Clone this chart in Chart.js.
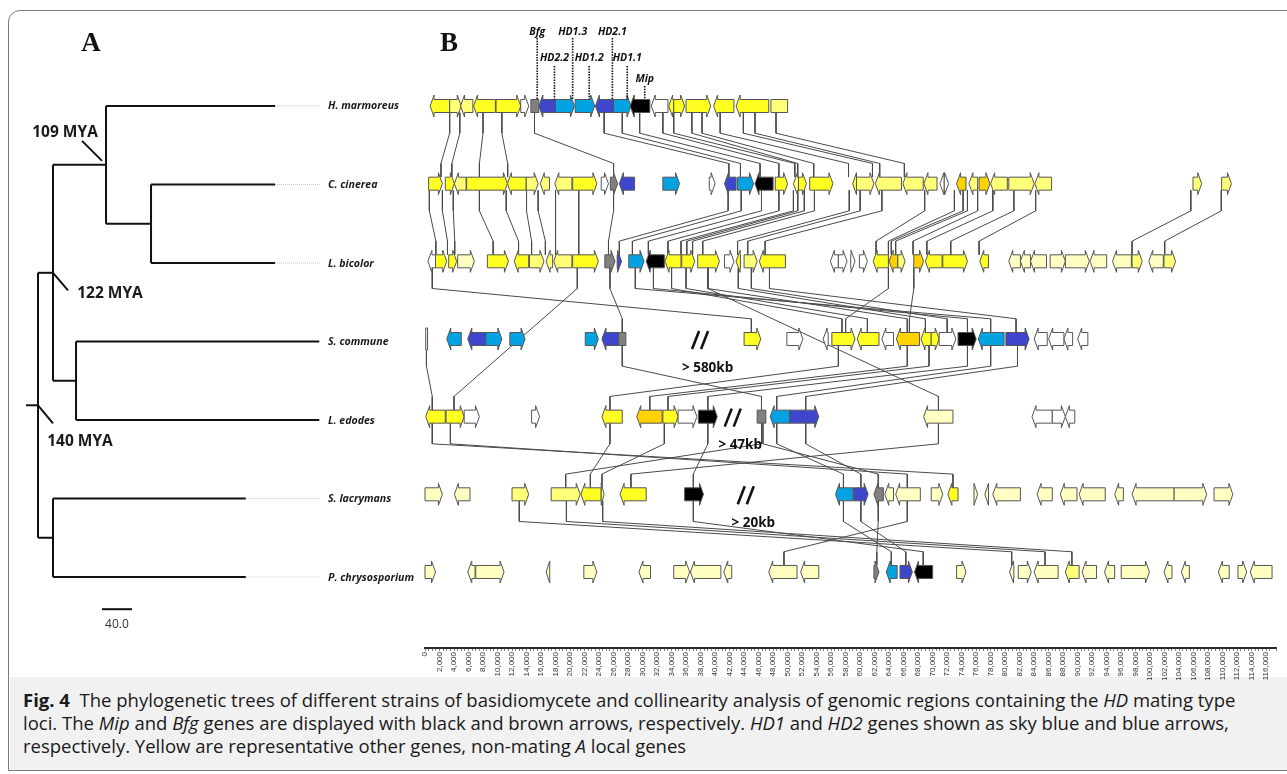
<!DOCTYPE html>
<html><head><meta charset="utf-8">
<script src="https://cdn.jsdelivr.net/npm/chart.js@4.4.1/dist/chart.umd.min.js"></script>
<style>
html,body{margin:0;padding:0;background:#fff;width:1287px;height:774px;overflow:hidden;}
#frame{position:absolute;left:8px;top:10px;width:1320px;height:761px;border:1px solid #7a7a7a;border-top-left-radius:12px;box-sizing:border-box;overflow:hidden;background:#fff;}
#caption{position:absolute;left:1px;top:666px;width:1320px;height:94px;background:#f1f1f1;font-family:"Open Sans",sans-serif;color:#1a1a1a;padding-top:11px;box-sizing:border-box;}
.cl{white-space:nowrap;height:23px;line-height:23px;padding-left:13px;font-size:15.4px;}
.fig{font-weight:700;}
canvas{position:absolute;left:0;top:0;}
</style></head>
<body>
<div id="frame"><div id="caption">
<div class="cl"><span id="cl1"><b class="fig">Fig. 4</b>&nbsp; The phylogenetic trees of different strains of basidiomycete and collinearity analysis of genomic regions containing the <i>HD</i> mating type</span></div>
<div class="cl">loci. The <i>Mip</i> and <i>Bfg</i> genes are displayed with black and brown arrows, respectively. <i>HD1</i> and <i>HD2</i> genes shown as sky blue and blue arrows,</div>
<div class="cl">respectively. Yellow are representative other genes, non-mating <i>A</i> local genes</div>
</div></div>
<canvas id="tree" width="425" height="680" style="width:425px;height:680px"></canvas>
<canvas id="genes" width="1287" height="680" style="width:1287px;height:680px"></canvas>
<script>
// ---------------- DATA ----------------
const speciesNames = ['H. marmoreus','C. cinerea','L. bicolor','S. commune','L. edodes','S. lacrymans','P. chrysosporium'];
// phylogeny (branch units; scale bar = 40.0)
const tipLength = [316,316,316,375,375,277,277];
const leaderEnd = 376;
const nodeIds = ['root','n122','n109','nCL','nSL','nSP'];
const nodeDepth = [0,20,90.7,150.7,50.7,20];
const nodeChildren = [['n122','nSP'],['n109','nSL'],[0,'nCL'],[1,2],[3,4],[5,6]];
const nodeAgeLabel = ['140 MYA','122 MYA','109 MYA','','',''];
const rootStub = -16;
const scaleBarValue = 40.0;

// x-axis (kb) tick labels every 2 kb, minor every 0.5 kb
const axisMaxKb = 117.4;
const tickStepKb = 0.5;
const labelStepKb = 2;

// genes: [start kb, end kb, strand, colour class]
const genesHmar = [[0.7,3.4,-1,'Y'],[3.4,5.0,1,'M'],[4.9,6.6,-1,'M'],[6.7,9.7,-1,'Y'],[9.8,13.2,1,'Y'],[13.2,14.3,1,'W'],[14.6,15.7,0,'R'],[15.7,18.0,-1,'B'],[18.0,20.6,1,'S'],[20.7,23.4,1,'S'],[23.5,26.0,-1,'B'],[26.0,28.4,1,'S'],[28.3,31.0,-1,'K'],[31.2,33.5,-1,'W'],[33.6,34.3,-1,'Y'],[34.3,35.8,1,'Y'],[36.0,39.4,1,'Y'],[39.8,42.6,-1,'Y'],[42.9,47.4,-1,'Y'],[47.7,50.0,0,'M']];
const genesCcin = [[0.5,2.4,1,'Y'],[2.8,4.05,1,'Y'],[4.05,5.66,-1,'M'],[5.74,11.36,1,'Y'],[11.36,13.96,-1,'Y'],[13.96,15.6,1,'M'],[15.9,17.16,-1,'M'],[17.9,20.26,-1,'M'],[20.36,23.7,1,'Y'],[24.3,25.3,1,'W'],[25.56,26.56,1,'R'],[26.8,28.9,-1,'B'],[32.8,35.1,1,'S'],[39.2,40.0,1,'W'],[41.3,42.9,-1,'B'],[43.1,45.3,1,'S'],[45.5,48.0,-1,'K'],[48.3,50.0,1,'Y'],[50.8,51.5,-1,'M'],[51.5,52.6,1,'Y'],[53.05,56.25,1,'Y'],[58.97,59.5,-1,'Y'],[59.5,61.9,1,'M'],[62.1,65.7,-1,'M'],[65.9,68.7,-1,'M'],[68.8,70.6,-1,'M'],[71.0,71.6,-1,'W'],[71.6,72.2,1,'W'],[73.3,74.6,-1,'G'],[75.0,76.2,-1,'M'],[76.4,77.9,1,'G'],[78.0,80.3,-1,'M'],[80.5,84.0,1,'M'],[84.1,86.4,-1,'M'],[105.9,107.1,1,'M'],[109.85,111.2,1,'M']];
const genesLbic = [[0.4,1.45,-1,'W'],[1.45,3.0,1,'Y'],[3.27,4.37,1,'Y'],[4.5,6.8,1,'P'],[8.6,11.5,1,'Y'],[12.3,14.3,-1,'Y'],[14.4,16.4,1,'M'],[16.7,17.6,-1,'M'],[17.75,20.26,-1,'M'],[20.36,23.9,1,'Y'],[24.8,26.2,1,'R'],[26.5,27.1,1,'B'],[28.1,30.2,1,'S'],[30.5,33.0,-1,'K'],[33.1,35.3,-1,'Y'],[35.4,37.2,1,'Y'],[37.6,40.6,1,'Y'],[41.3,42.6,1,'W'],[42.9,43.5,-1,'Y'],[44.0,45.8,1,'M'],[46.1,49.7,-1,'Y'],[55.9,57.0,-1,'W'],[57.0,58.2,1,'W'],[58.7,59.3,1,'W'],[59.9,61.0,1,'W'],[61.8,63.9,-1,'Y'],[64.0,65.2,-1,'G'],[65.2,66.2,1,'M'],[67.4,68.75,1,'G'],[69.0,71.3,-1,'Y'],[71.4,74.8,1,'Y'],[76.5,77.7,-1,'Y'],[80.5,82.1,-1,'P'],[82.1,83.5,-1,'P'],[83.5,85.7,-1,'P'],[86.2,88.3,1,'P'],[88.3,91.6,1,'P'],[91.7,94.0,-1,'P'],[94.8,97.4,-1,'P'],[97.5,98.9,1,'M'],[99.8,101.8,-1,'P'],[101.9,103.5,1,'M']];
const genesScom = [[0.1,0.35,0,'W'],[3.0,5.0,-1,'S'],[5.9,8.4,-1,'B'],[8.4,10.6,1,'S'],[11.7,13.8,1,'S'],[22.1,23.9,1,'S'],[24.4,26.7,-1,'B'],[26.7,27.7,0,'R'],[44.0,46.3,1,'Y'],[49.9,52.1,1,'W'],[54.9,55.6,-1,'W'],[56.1,59.3,1,'Y'],[59.6,62.6,-1,'Y'],[63.0,64.6,-1,'W'],[65.0,68.2,-1,'G'],[68.4,69.8,-1,'Y'],[69.8,70.9,1,'Y'],[70.9,73.2,1,'W'],[73.5,76.0,1,'K'],[76.3,79.85,-1,'S'],[80.1,83.3,1,'B'],[84.0,85.8,-1,'W'],[86.0,88.1,-1,'W'],[88.1,89.3,-1,'W'],[90.0,91.4,-1,'W']];
const genesLedo = [[0.1,2.8,-1,'Y'],[2.9,5.4,1,'Y'],[5.4,7.5,1,'W'],[14.7,15.8,1,'W'],[24.4,27.2,-1,'Y'],[29.2,32.7,-1,'G'],[32.8,34.9,1,'Y'],[34.9,37.5,1,'W'],[37.7,40.3,1,'K'],[45.8,47.0,0,'R'],[47.6,50.3,-1,'S'],[50.3,54.3,1,'B'],[68.75,72.8,-1,'P'],[83.7,86.5,-1,'W'],[86.5,88.3,1,'W'],[88.3,89.6,-1,'W']];
const genesSlac = [[0.0,2.4,1,'P'],[4.05,6.2,-1,'P'],[12.0,14.3,1,'M'],[17.4,21.4,1,'M'],[21.5,24.3,-1,'Y'],[24.3,24.7,1,'M'],[26.9,30.5,-1,'Y'],[35.8,38.4,1,'K'],[56.6,59.0,-1,'S'],[59.1,61.1,1,'B'],[61.9,63.2,-1,'R'],[63.4,64.6,-1,'P'],[64.9,68.3,-1,'P'],[69.8,71.4,1,'P'],[72.1,73.5,-1,'Y'],[75.7,76.2,1,'P'],[77.2,77.7,-1,'P'],[78.3,82.1,-1,'P'],[84.4,86.5,-1,'P'],[87.6,89.9,-1,'P'],[90.2,93.8,-1,'P'],[95.1,96.3,-1,'P'],[97.5,103.3,-1,'P'],[103.3,107.8,1,'P'],[108.8,111.4,1,'P']];
const genesPchr = [[0.0,1.45,1,'P'],[5.9,6.9,-1,'P'],[7.0,10.9,1,'P'],[16.7,17.2,-1,'P'],[21.9,23.7,1,'P'],[29.5,31.1,-1,'P'],[34.3,36.5,1,'P'],[36.6,40.8,-1,'P'],[41.2,42.3,-1,'P'],[47.4,51.3,-1,'P'],[51.8,54.3,-1,'P'],[61.9,62.6,1,'R'],[63.6,65.1,-1,'S'],[65.5,67.2,1,'B'],[67.5,70.0,-1,'K'],[73.3,74.6,1,'P'],[80.6,81.2,-1,'P'],[81.8,83.6,1,'P'],[84.0,87.3,-1,'P'],[88.3,90.2,-1,'M'],[90.6,92.6,-1,'P'],[93.7,95.1,-1,'P'],[96.0,99.9,1,'P'],[101.9,103.0,-1,'P'],[104.3,105.4,-1,'P'],[109.4,110.9,-1,'P'],[112.1,113.3,1,'P'],[113.8,116.8,-1,'P']];
const geneRows = [genesHmar,genesCcin,genesLbic,genesScom,genesLedo,genesSlac,genesPchr];

// mating-type gene labels on H. marmoreus
const matingLabels = ['Bfg','HD2.2','HD1.3','HD1.2','HD2.1','HD1.1','Mip'];
const matingLabelKb = [15.47,17.85,20.36,22.64,25.84,27.89,30.3];
const matingLabelLevel = [0,1,0,1,0,1,2];

// gaps between syntenic blocks
const breakRows = [3,4,5];
const breakKb = [38.0,42.5,44.3];
const breakText = ['> 580kb','> 47kb','> 20kb'];

// collinearity links: [rowA, kbA, rowB, kbB]
const links = [
 [0,3.4,1,2.2],[0,4.8,1,3.7],[0,8.0,1,7.5],[0,10.6,1,11.4],[0,15.1,1,26.0],[0,24.7,1,41.9],[0,27.2,1,43.5],[0,29.6,1,46.2],[0,32.8,1,48.8],[0,34.3,1,51.0],[0,36.8,1,51.4],[0,38.2,1,53.6],[0,40.7,1,58.4],[0,43.9,1,61.7],[0,45.5,1,62.7],[0,48.4,1,66.1],
 [1,0.6,2,1.5],[1,2.4,2,3.1],[1,3.9,2,4.1],[1,7.5,2,9.4],[1,11.2,2,12.9],[1,14.0,2,14.7],[1,15.6,2,16.6],[1,18.0,2,18.0],[1,21.2,2,21.2],[1,26.0,2,25.3],[1,41.8,2,26.8],[1,43.6,2,28.6],[1,46.4,2,30.8],[1,48.8,2,33.5],[1,50.8,2,35.3],[1,51.4,2,36.1],[1,52.3,2,36.9],[1,53.7,2,38.3],[1,58.5,2,43.1],[1,60.0,2,44.5],[1,63.0,2,46.9],[1,68.9,2,62.2],[1,73.0,2,63.9],[1,74.2,2,64.3],[1,74.8,2,64.9],[1,76.2,2,67.3],[1,78.3,2,69.2],[1,81.2,2,72.5],[1,84.2,2,76.4],[1,105.6,2,97.5],[1,109.8,2,102.0],
 [2,1.0,3,45.0],[2,21.0,4,4.0],[2,39.0,4,70.8],[2,25.5,3,27.2],[2,29.0,3,78.0],[2,31.5,3,74.8],[2,34.0,3,57.5],[2,36.0,3,61.0],[2,39.0,3,66.5],[2,43.2,3,69.0],[2,45.0,3,72.0],[2,47.5,3,81.5],[2,63.9,3,58.0],[2,67.4,3,66.8],
 [3,0.2,4,1.0],[3,27.2,4,46.4],[3,57.0,4,25.5],[3,66.5,4,31.0],[3,69.5,4,33.5],[3,74.8,4,39.0],[3,78.0,4,48.5],[3,81.7,4,52.5],
 [4,1.0,5,72.8],[4,3.5,5,66.5],[4,25.5,5,22.8],[4,33.0,5,24.4],[4,39.0,5,37.0],[4,46.4,5,19.4],[4,46.6,5,62.5],[4,48.5,5,57.7],[4,52.5,5,60.1],[4,70.8,5,28.4],
 [5,13.0,6,80.9],[5,19.5,6,85.5],[5,24.5,6,89.2],[5,37.0,6,68.7],[5,57.7,6,64.3],[5,60.1,6,66.3],[5,62.5,6,62.3],[5,66.5,6,49.5]
];

// ---------------- STYLE ----------------
const geneColor = {Y:'#ffff22',M:'#ffff78',P:'#ffffc2',G:'#ffd200',W:'#ffffff',S:'#03a3e3',B:'#3e47cc',K:'#000000',R:'#808080'};

// ---------------- TREE CHART ----------------
function yOf(c){ if(typeof c==='number') return c; const i=nodeIds.indexOf(c); const ys=nodeChildren[i].map(yOf); return (Math.min(...ys)+Math.max(...ys))/2; }
function xOf(c){ if(typeof c==='number') return tipLength[c]; return nodeDepth[nodeIds.indexOf(c)]; }
const treeSets = [];
function seg(pts, opts){ treeSets.push(Object.assign({data:pts,showLine:true,pointRadius:0,borderColor:'#111',borderWidth:2,fill:false,tension:0},opts||{})); }
nodeIds.forEach((id,i)=>{
  const d=nodeDepth[i]; const ch=nodeChildren[i];
  seg([{x:d,y:yOf(ch[0])},{x:d,y:yOf(ch[1])}]);
  ch.forEach(c=>seg([{x:d,y:yOf(c)},{x:xOf(c),y:yOf(c)}]));
});
seg([{x:rootStub,y:yOf('root')},{x:0,y:yOf('root')}]);
speciesNames.forEach((n,i)=>{ if(tipLength[i]<leaderEnd) seg([{x:tipLength[i],y:i},{x:leaderEnd,y:i}],{borderColor:'#c4c4c4',borderWidth:1,borderDash:[1,1]}); });
const scaleBarX = 85.3, scaleBarY = 6.41;
seg([{x:scaleBarX,y:scaleBarY},{x:scaleBarX+scaleBarValue,y:scaleBarY}]);

const treeText = {id:'treeText', afterDraw(chart){
  const ctx=chart.ctx, xs=chart.scales.x, ys=chart.scales.y;
  ctx.save();
  ctx.fillStyle='#1a1a1a'; ctx.textBaseline='middle';
  ctx.font='italic bold 10.6px "Open Sans"'; ctx.textAlign='left';
  speciesNames.forEach((n,i)=>ctx.fillText(n, xs.getPixelForValue(leaderEnd)+8, ys.getPixelForValue(i)+0.5));
  // age ticks and labels
  const offs = {root:[[0,0],[15,18],[42,36]], n122:[[0,0],[15,17.5],[57,21]], n109:[[-24,-24],[-4,-4],[-41,-32]]};
  ctx.strokeStyle='#111'; ctx.lineWidth=2; ctx.font='bold 15.5px "Open Sans"'; ctx.textAlign='center';
  nodeIds.forEach((id,i)=>{ if(!nodeAgeLabel[i]) return; const px=xs.getPixelForValue(nodeDepth[i]), py=ys.getPixelForValue(yOf(id)); const o=offs[id];
    ctx.beginPath(); ctx.moveTo(px+o[0][0],py+o[0][1]); ctx.lineTo(px+o[1][0],py+o[1][1]); ctx.stroke();
    ctx.fillText(nodeAgeLabel[i], px+o[2][0], py+o[2][1]); });
  ctx.font='12px "Open Sans"'; ctx.fillStyle='#333';
  ctx.fillText(scaleBarValue.toFixed(1), xs.getPixelForValue(scaleBarX+scaleBarValue/2), ys.getPixelForValue(scaleBarY)+15);
  ctx.font='bold 27px "Liberation Serif"'; ctx.fillStyle='#111';
  ctx.fillText('A', 91, 44);
  ctx.restore();
}};
new Chart(document.getElementById('tree'), {type:'scatter', data:{datasets:treeSets},
  options:{responsive:false, animation:false, events:[], layout:{padding:0},
    plugins:{legend:{display:false},tooltip:{enabled:false}},
    scales:{x:{type:'linear',display:false,min:-50.67,max:516},y:{type:'linear',display:false,min:-1.350,max:7.312,reverse:true}}},
  plugins:[treeText]});

// ---------------- GENE CHART ----------------
const linkSets = links.map(l=>({data:[{x:l[1],y:l[0]+0.085},{x:l[1],y:l[0]+0.35},{x:l[3],y:l[2]-0.26},{x:l[3],y:l[2]-0.085}],
  showLine:true,pointRadius:0,borderColor:'#4a4a4a',borderWidth:1,fill:false,tension:0}));

function drawGene(ctx,x0,x1,y,strand,fill){
  const bh=6.5, barb=11, head=Math.min(4,x1-x0);
  ctx.beginPath();
  if(strand>0){ const hx=x1-head; ctx.moveTo(x0,y-bh); ctx.lineTo(hx,y-bh); ctx.lineTo(hx,y-barb); ctx.lineTo(x1,y); ctx.lineTo(hx,y+barb); ctx.lineTo(hx,y+bh); ctx.lineTo(x0,y+bh); ctx.closePath(); }
  else if(strand<0){ const hx=x0+head; ctx.moveTo(x1,y-bh); ctx.lineTo(hx,y-bh); ctx.lineTo(hx,y-barb); ctx.lineTo(x0,y); ctx.lineTo(hx,y+barb); ctx.lineTo(hx,y+bh); ctx.lineTo(x1,y+bh); ctx.closePath(); }
  else if(x1-x0<3){ ctx.rect(x0,y-barb,x1-x0,2*barb); }
  else { ctx.rect(x0,y-bh,x1-x0,2*bh); }
  ctx.fillStyle=fill; ctx.fill(); ctx.strokeStyle='#555'; ctx.lineWidth=1; ctx.stroke();
}
const genePlugin = {id:'genes', afterDatasetsDraw(chart){
  const ctx=chart.ctx, xs=chart.scales.x, ys=chart.scales.y;
  ctx.save();
  geneRows.forEach((row,r)=>{ const y=ys.getPixelForValue(r);
    row.forEach(g=>drawGene(ctx, xs.getPixelForValue(g[0]), xs.getPixelForValue(g[1]), y, g[2], geneColor[g[3]])); });
  // mating labels
  const levelText=[32,58,79], levelTop=[38,66,86];
  const rowTop = ys.getPixelForValue(0)-6.5;
  ctx.font='italic bold 10.5px "Open Sans"'; ctx.textAlign='center'; ctx.textBaseline='middle'; ctx.fillStyle='#111';
  matingLabels.forEach((t,i)=>{ const x=xs.getPixelForValue(matingLabelKb[i]);
    ctx.save(); ctx.setLineDash([1.5,1.2]); ctx.strokeStyle='#111'; ctx.lineWidth=1.6;
    ctx.beginPath(); ctx.moveTo(x,levelTop[matingLabelLevel[i]]); ctx.lineTo(x,rowTop); ctx.stroke(); ctx.restore();
    ctx.fillText(t, x, levelText[matingLabelLevel[i]]); });
  // breaks
  breakRows.forEach((r,i)=>{ const x=xs.getPixelForValue(breakKb[i]), y=ys.getPixelForValue(r);
    ctx.strokeStyle='#111'; ctx.lineWidth=2.6; ctx.setLineDash([]);
    [-5,4].forEach(dx=>{ ctx.beginPath(); ctx.moveTo(x+dx-3.5,y+10); ctx.lineTo(x+dx+3.5,y-8); ctx.stroke(); });
    ctx.font='bold 13.5px "Open Sans"'; ctx.fillStyle='#111'; ctx.fillText(breakText[i], x+7, y+29); });
  ctx.font='bold 27px "Liberation Serif"'; ctx.fillStyle='#111'; ctx.fillText('B', 449, 44);
  ctx.restore();
}};
new Chart(document.getElementById('genes'), {type:'scatter', data:{datasets:linkSets},
  options:{responsive:false, animation:false, events:[], layout:{padding:{left:425,right:4,top:0,bottom:0}},
    plugins:{legend:{display:false},tooltip:{enabled:false}},
    scales:{
      x:{type:'linear',position:'bottom',min:0,max:axisMaxKb,
        afterFit:(s)=>{s.height=32;},
        border:{display:true,color:'#2b2b2b',width:2},
        grid:{display:true,drawOnChartArea:false,drawTicks:true,tickLength:3,color:'#666',lineWidth:0.8},
        ticks:{stepSize:tickStepKb,autoSkip:false,maxTicksLimit:1000,minRotation:90,maxRotation:90,padding:1,color:'#333',font:{size:8,family:'"Liberation Sans"'},
          callback:(v)=>{ const q=v/labelStepKb; return Math.abs(q-Math.round(q))<1e-6 ? Math.round(v*1000).toLocaleString('en-US') : ''; }}},
      y:{type:'linear',display:false,min:-1.365,max:6.979,reverse:true}
    }},
  plugins:[genePlugin]});

// caption width fit
(function(){ const el=document.getElementById('cl1'); const w=el.getBoundingClientRect().width; const target=1212;
  const fs=15.4*target/w; document.querySelectorAll('.cl').forEach(c=>c.style.fontSize=fs+'px'); })();
</script>
</body></html>
